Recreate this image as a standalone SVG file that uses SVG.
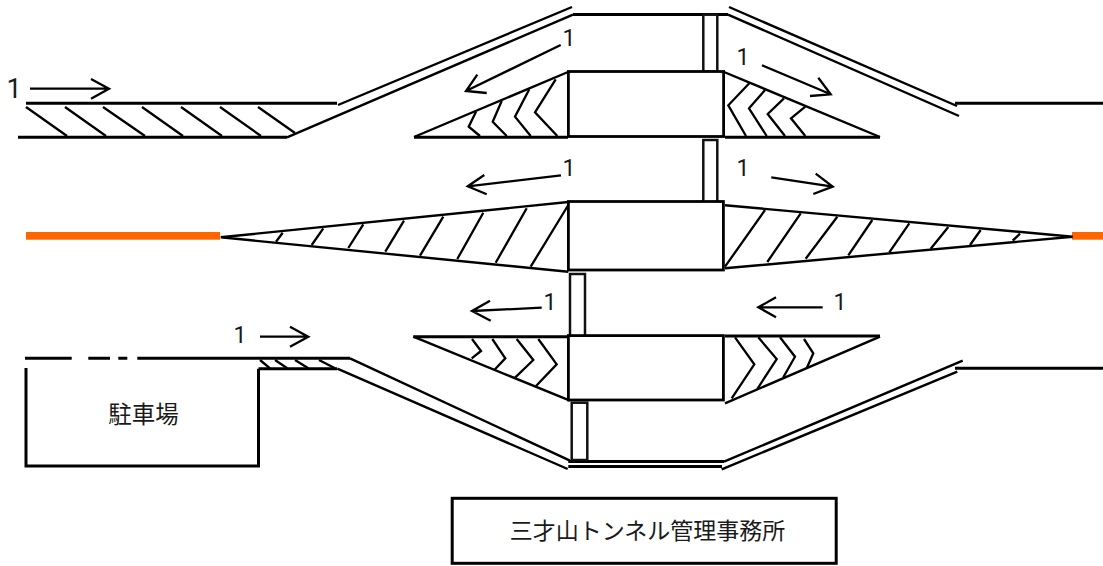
<svg xmlns="http://www.w3.org/2000/svg" width="1103" height="566" viewBox="0 0 1103 566">
<style>
.h{fill:none;stroke:#000;stroke-width:3}
.m{fill:none;stroke:#000;stroke-width:2.4}
.t{fill:none;stroke:#000;stroke-width:2.3}
.b{fill:#fff;stroke:#000;stroke-width:2.8}
.s{fill:#fff;stroke:#111;stroke-width:2.5}
.o{fill:#ff6600}
text{fill:#1a1a1a}
.n{font-family:Roboto,"Liberation Sans",sans-serif;font-size:23px;text-anchor:middle}
.j{font-family:"Noto Sans CJK JP",sans-serif;text-anchor:middle}
</style>
<rect width="1103" height="566" fill="#fff"/>
<g id="road-top">
<path class="h" d="M26 103.3H337M18 137.3H287M955 103.3H1103M573 14.6H728"/>
<path class="m" d="M287 137.3L573 14.6M338 105L572 7M729 7L957 106M728 14.6L959 116"/>
<path class="t" d="M26 107L67 136M65 107L106 136M103 107L145 136M142 107L183 136M181 107L222 136M220 107L261 136M258 107L295 133"/>
</g>
<g id="road-middle">
<rect class="o" x="26" y="232" width="194" height="7.7"/>
<rect class="o" x="1072" y="232" width="31" height="7.7"/>
</g>
<g id="road-bottom">
<path class="h" d="M25 358.3H71.7M88.3 358.3H110M118.3 358.3H127.3M137.3 358.3H350M258.5 368.7H337M26 368V466H258.5V368.7M955 368.3H1103M568.3 461.5H724M568.3 466.5H722"/>
<path class="m" d="M350 358.3L570 460.7M337.3 368.7L567.7 469M724 461.7L962.7 360.7M721.7 469.3L957.3 371.7"/>
<path class="t" d="M260 360L270 368.3M275 360L287.3 368.3M295 360L308.3 368.3M319 360L335 368.3"/>
</g>
<g id="island-top">
<path class="m" d="M414 137L568 72M724 72L880 137"/>
<path class="h" d="M414 137.3H568M725 137.3H880"/>
<path class="t" d="M555.7 79.3L535 112.3L557.3 136M529.3 89.3L515 116.7L530.7 136M501.7 101L492.7 121.7L506.7 136M476 111.7L468.7 126.7L480 136M749.3 83.3L728.3 105.3L746 136M765 90L749 108.3L766.7 136M784 98.3L767.7 114L785 136M805.3 106.7L791 118.3L805.3 136"/>
<rect class="s" x="703.3" y="14.7" width="14" height="57"/>
<rect class="b" x="568.4" y="71.5" width="155.2" height="65"/>
</g>
<g id="island-middle">
<path class="m" d="M220.7 237.3L568.3 202M220.7 237.3L568.3 271.7M1072.7 236.7L725 205.3M1072.7 236.7L725 268.3"/>
<path class="t" d="M282.7 232.7L276 241.7M323.3 228.3L311.7 245M363.3 224.3L348.3 248M404 220.7L385.3 251.7M443.3 216.7L420 255.7M483.3 212.7L457.3 259M526.7 208.3L495.7 262.7M568.3 205L530.7 266.7M765 210L725 266.7M800.7 213.3L767.3 262M837.3 216.7L805.7 258.7M872.3 220L848.3 255.3M909.3 223.3L889.3 252.3M948.3 227L930.7 248.7M980.7 230L970 245M1020 233.7L1012.7 240.7"/>
<rect class="s" x="703.3" y="140" width="14" height="63"/>
<rect class="b" x="568.4" y="201.5" width="155" height="68.5"/>
</g>
<g id="island-bottom">
<path class="m" d="M413.3 336.7L570 400.7M725 403.3L880 336.7"/>
<path class="h" d="M413.3 336.7H568M725 336H880"/>
<path class="t" d="M538.3 339L556.7 364.3L536 386M516.7 339L533.3 360L514.3 378.3M492.3 339L505.3 358.3L494.3 370M472 339L481 351L471.7 358.3M735 337.3L754.3 364.3L731.7 398.3M758.3 337.3L776.7 359L757.3 389M780 337.3L795 356.7L783.3 377.3M804 339L813.3 353.3L806.7 368.3"/>
<rect class="s" x="570" y="274" width="15" height="62.7"/>
<rect class="s" x="571.7" y="402.7" width="15.6" height="57.3"/>
<rect class="b" x="568.4" y="335.6" width="155" height="64.4"/>
</g>
<g id="arrows">
<path class="t" d="M30 88.7H109M91 79L109 88.7L91 98.7"/>
<path class="t" d="M560.7 45L466 91M477.3 74.7L466 91L486.7 93"/>
<path class="t" d="M762 65.3L830.7 94.3M818.3 77.7L830.7 94.3L810 96"/>
<path class="t" d="M561 175.3L467.7 186.3M484.3 175L467.7 186.3L486.7 194.3"/>
<path class="t" d="M771.3 177.3L832.7 186.7M815.7 173.7L832.7 186.7L813.3 194"/>
<path class="t" d="M541.7 307.7L472 311M490 300.7L472 311L490.7 320.7"/>
<path class="t" d="M822.7 307.3H758.3M776 297.3L758.3 307.3L776 317.3"/>
<path class="t" d="M260 336.7H308.3M290 326.7L308.3 336.7L290 346.7"/>
</g>
<g id="labels">
<text class="n" x="14" y="98" style="font-size:27px">1</text>
<text class="n" x="569" y="46">1</text>
<text class="n" x="743" y="65">1</text>
<text class="n" x="569" y="176">1</text>
<text class="n" x="743" y="176">1</text>
<text class="n" x="550" y="310">1</text>
<text class="n" x="840" y="310">1</text>
<text class="n" x="240" y="343">1</text>
</g>
<g id="parking">
<text class="j" x="143.5" y="423" font-size="23.5">駐車場</text>
</g>
<g id="office">
<rect x="452.2" y="498.3" width="384" height="65" fill="#fff" stroke="#000" stroke-width="3"/>
<text class="j" x="647.5" y="539" font-size="23">三才山トンネル管理事務所</text>
</g>
</svg>
